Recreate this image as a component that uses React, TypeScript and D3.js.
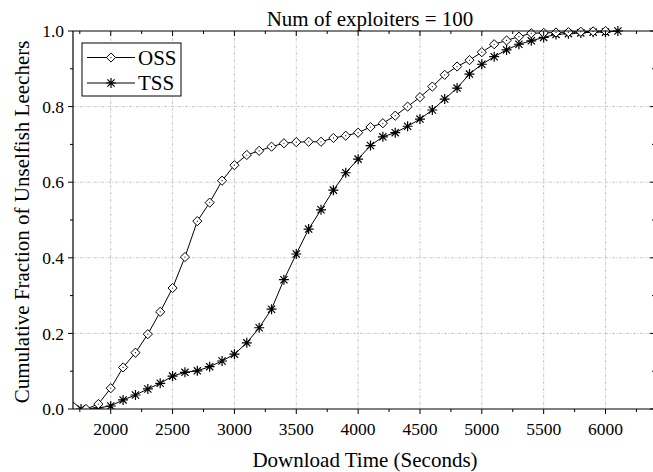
import React from "react";
import * as d3 from "d3";

const ossX = [1800, 1900, 2000, 2100, 2200, 2300, 2400, 2500, 2600, 2700, 2800, 2900, 3000, 3100, 3200, 3300, 3400, 3500, 3600, 3700, 3800, 3900, 4000, 4100, 4200, 4300, 4400, 4500, 4600, 4700, 4800, 4900, 5000, 5100, 5200, 5300, 5400, 5500, 5600, 5700, 5800, 5900, 6000];
const ossY = [0, 0.013, 0.055, 0.11, 0.149, 0.198, 0.257, 0.32, 0.402, 0.497, 0.546, 0.604, 0.645, 0.672, 0.683, 0.694, 0.703, 0.706, 0.707, 0.707, 0.717, 0.723, 0.731, 0.746, 0.756, 0.776, 0.8, 0.825, 0.853, 0.884, 0.906, 0.923, 0.944, 0.965, 0.975, 0.985, 0.994, 0.995, 0.996, 0.997, 0.998, 0.999, 1.0];

const tssX = [1690, 1760, 1900, 2000, 2100, 2200, 2300, 2400, 2500, 2600, 2700, 2800, 2900, 3000, 3100, 3200, 3300, 3400, 3500, 3600, 3700, 3800, 3900, 4000, 4100, 4200, 4300, 4400, 4500, 4600, 4700, 4800, 4900, 5000, 5100, 5200, 5300, 5400, 5500, 5600, 5700, 5800, 5900, 6000, 6100];
const tssY = [0.02, 0, 0.003, 0.008, 0.024, 0.037, 0.053, 0.068, 0.087, 0.097, 0.101, 0.112, 0.127, 0.145, 0.175, 0.215, 0.264, 0.342, 0.41, 0.476, 0.527, 0.579, 0.625, 0.661, 0.697, 0.72, 0.731, 0.748, 0.767, 0.791, 0.82, 0.849, 0.886, 0.912, 0.932, 0.95, 0.965, 0.974, 0.983, 0.991, 0.993, 0.995, 0.997, 0.997, 1.0];

const xMajor = [2000, 2500, 3000, 3500, 4000, 4500, 5000, 5500, 6000];
const xMinor = [1750, 2250, 2750, 3250, 3750, 4250, 4750, 5250, 5750, 6250];
const yMajor = [0, 0.2, 0.4, 0.6, 0.8, 1.0];
const yMinor = [0.1, 0.3, 0.5, 0.7, 0.9];

const title = "Num of exploiters = 100";
const xLabel = "Download Time (Seconds)";
const yLabel = "Cumulative Fraction of Unselfish Leechers";
const seriesNames = ["OSS", "TSS"];

const W = 653, H = 472;
const L = 73, R = 655, T = 31, B = 409;
const FONT = "'Liberation Serif', 'Times New Roman', serif";

const diamond = "M0,-4.6L4.6,0L0,4.6L-4.6,0Z";
const star = "M0,-5V5M-5,0H5M-3.6,-3.6L3.6,3.6M-3.6,3.6L3.6,-3.6";

function Diamond({ x, y }: { x: number; y: number }) {
  return (
    <g transform={`translate(${x},${y})`}>
      <path d={diamond} fill="#fff" stroke="#000" strokeWidth={1} />
      <circle r={0.6} fill="#000" />
    </g>
  );
}
function Star({ x, y }: { x: number; y: number }) {
  return <path transform={`translate(${x},${y})`} d={star} fill="none" stroke="#000" strokeWidth={1.2} />;
}

export default function App() {
  const x = d3.scaleLinear().domain([1695, 6400]).range([L, R]);
  const y = d3.scaleLinear().domain([0, 1]).range([B, T]);
  const line = d3.line<[number, number]>().x((d) => x(d[0])).y((d) => y(d[1]));
  const oss = ossX.map((v, i) => [v, ossY[i]] as [number, number]);
  const tss = tssX.map((v, i) => [v, tssY[i]] as [number, number]);
  const inDomain = (d: [number, number]) => d[0] >= x.domain()[0];
  const grid = { stroke: "#b0b0b0", strokeWidth: 0.7, strokeDasharray: "3,1.5,1,1.5" };

  return (
    <div style={{ position: "absolute", left: 0, top: 0 }}>
      <svg width={W} height={H} style={{ display: "block", background: "#fff" }} fontFamily={FONT}>
        <defs>
          <clipPath id="plot">
            <rect x={L} y={T - 8} width={R - L + 10} height={B - T + 8} />
          </clipPath>
        </defs>
        {xMajor.map((v) => (
          <line key={"gx" + v} x1={x(v)} x2={x(v)} y1={T} y2={B} {...grid} />
        ))}
        {yMajor.filter((v) => v > 0 && v < 1).map((v) => (
          <line key={"gy" + v} x1={L} x2={R} y1={y(v)} y2={y(v)} {...grid} />
        ))}
        <g clipPath="url(#plot)">
          <path d={line(oss) || ""} fill="none" stroke="#000" strokeWidth={1} />
          <path d={line(tss) || ""} fill="none" stroke="#000" strokeWidth={1} />
          {tss.filter(inDomain).map((d, i) => (
            <Star key={"t" + i} x={x(d[0])} y={y(d[1])} />
          ))}
          {oss.filter(inDomain).map((d, i) => (
            <Diamond key={"o" + i} x={x(d[0])} y={y(d[1])} />
          ))}
        </g>
        <line x1={L} x2={L} y1={T} y2={B} stroke="#000" strokeWidth={1.2} />
        <line x1={L} x2={R} y1={B} y2={B} stroke="#000" strokeWidth={1.2} />
        <line x1={L} x2={R} y1={T} y2={T} stroke="#000" strokeWidth={1.2} />
        <line x1={R} x2={R} y1={T} y2={B} stroke="#000" strokeWidth={1.2} />
        {xMajor.map((v) => (
          <g key={"xt" + v}>
            <line x1={x(v)} x2={x(v)} y1={B} y2={B + 5} stroke="#000" />
            <line x1={x(v)} x2={x(v)} y1={T} y2={T + 5} stroke="#000" />
            <text x={x(v)} y={435} textAnchor="middle" fontSize={17.5}>{v}</text>
          </g>
        ))}
        {xMinor.map((v) => (
          <g key={"xm" + v}>
            <line x1={x(v)} x2={x(v)} y1={B} y2={B + 3} stroke="#000" />
            <line x1={x(v)} x2={x(v)} y1={T} y2={T + 3} stroke="#000" />
          </g>
        ))}
        {yMajor.map((v) => (
          <g key={"yt" + v}>
            <line x1={L - 5} x2={L} y1={y(v)} y2={y(v)} stroke="#000" />
            <line x1={R - 5} x2={R} y1={y(v)} y2={y(v)} stroke="#000" />
            <text x={L - 9} y={y(v)} dy="0.35em" textAnchor="end" fontSize={17.5}>{v.toFixed(1)}</text>
          </g>
        ))}
        {yMinor.map((v) => (
          <g key={"ym" + v}>
            <line x1={L - 3} x2={L} y1={y(v)} y2={y(v)} stroke="#000" />
            <line x1={R - 3} x2={R} y1={y(v)} y2={y(v)} stroke="#000" />
          </g>
        ))}
        <text x={370} y={26} textAnchor="middle" fontSize={21}>{title}</text>
        <text x={365} y={467} textAnchor="middle" fontSize={21}>{xLabel}</text>
        <text transform={`translate(29,222) rotate(-90)`} textAnchor="middle" fontSize={21}>{yLabel}</text>
        <rect x={82} y={43} width={99} height={53} fill="#fff" stroke="#000" strokeWidth={1} />
        {seriesNames.map((name, i) => {
          const ly = 57.5 + i * 25.5;
          return (
            <g key={name}>
              <line x1={87} x2={135} y1={ly} y2={ly} stroke="#000" strokeWidth={1} />
              {i === 0 ? <Diamond x={111} y={ly} /> : <Star x={111} y={ly} />}
              <text x={138} y={ly + 7} fontSize={21}>{name}</text>
            </g>
          );
        })}
      </svg>
    </div>
  );
}
